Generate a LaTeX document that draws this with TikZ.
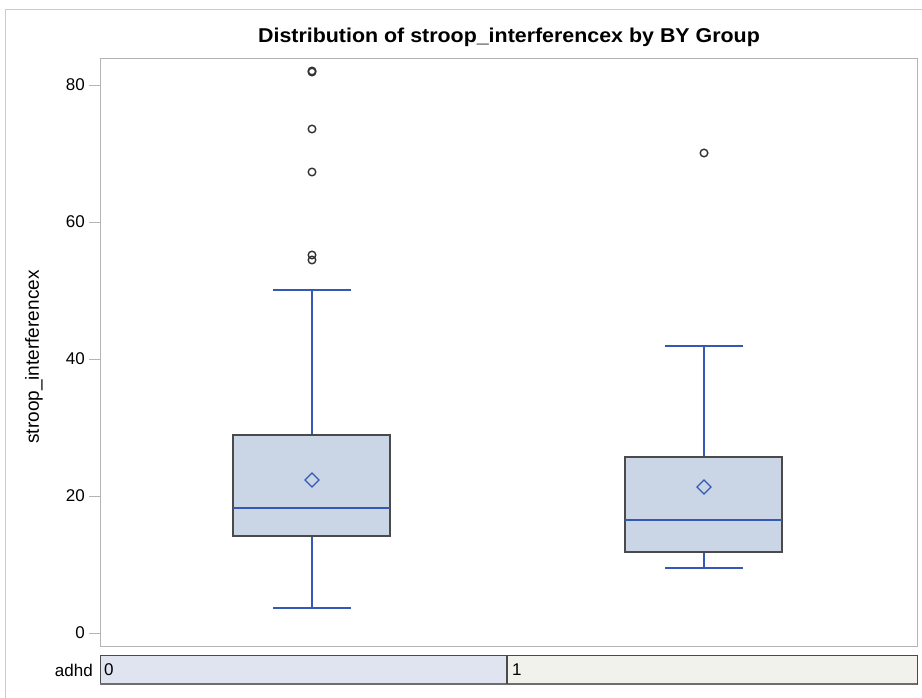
\documentclass[tikz,border=0pt]{standalone}
\usepackage{fontspec}
\setmainfont{Liberation Sans}
\definecolor{boxfill}{HTML}{CAD5E5}
\definecolor{boxline}{HTML}{4A4A4A}
\definecolor{wblue}{HTML}{3558B5}
\definecolor{framegray}{HTML}{B4B4B4}
\definecolor{stripA}{HTML}{DFE4F0}
\definecolor{stripB}{HTML}{F1F2EC}
\definecolor{outl}{HTML}{333333}
\tikzset{
  whisk/.style={draw=wblue, line width=1.2pt},
  qbox/.style={draw=boxline, fill=boxfill, line width=1.6pt},
  outp/.style={draw=outl, line width=1.4pt},
  tick/.style={draw=framegray, line width=0.8pt},
  lab/.style={font=\fontsize{17}{20}\selectfont, text=black, inner sep=0pt},
  ticklab/.style={lab, anchor=east},
}
\begin{document}
\begin{tikzpicture}[x=1pt,y=-1pt]
\useasboundingbox (0,0) rectangle (922,698);
\fill[white] (0,0) rectangle (922,698);
% outer panel frame
\draw[draw=framegray!70, line width=0.8pt] (5,698) -- (5,9) -- (922,9);
% title
\node[font=\bfseries\fontsize{20}{24}\selectfont, xscale=1.07, inner sep=0pt] (title) at (509,37) {Distribution of stroop\_interferencex by BY Group};
% plot frame
\draw[draw=framegray, line width=1pt] (100,59) rectangle (917,646);
% y ticks and labels
\foreach \v/\yy in {0/633,20/496,40/359,60/222,80/85}{
  \draw[tick] (89,\yy) -- (100,\yy);
  \node[ticklab] (t\v) at (85,\yy) {\v};
}
\node[rotate=90, font=\fontsize{19}{22}\selectfont, inner sep=0pt] (ylab) at (34,357) {stroop\_interferencex};
% group 0
\draw[whisk] (312,290) -- (312,435);
\draw[whisk] (312,536) -- (312,608);
\draw[whisk] (273,290) -- (351,290);
\draw[whisk] (273,608) -- (351,608);
\draw[qbox] (233,435) rectangle (390,536);
\draw[whisk] (233,508) -- (390,508);
\draw[whisk] (312,473) -- (319,480) -- (312,487) -- (305,480) -- cycle;
\foreach \yy in {71,72,129,172,255,260}{ \draw[outp] (312,\yy) circle (3.8); }
% group 1
\draw[whisk] (704,346) -- (704,457);
\draw[whisk] (704,552) -- (704,568);
\draw[whisk] (665,346) -- (743,346);
\draw[whisk] (665,568) -- (743,568);
\draw[qbox] (625,457) rectangle (782,552);
\draw[whisk] (625,520) -- (782,520);
\draw[whisk] (704,480) -- (711,487) -- (704,494) -- (697,487) -- cycle;
\draw[outp] (704,153) circle (3.8);
% strip
\node[lab, anchor=east] (adhd) at (93,670) {adhd};
\draw[draw=boxline, fill=stripA, line width=1pt] (100,655) rectangle (507,684);
\draw[draw=boxline, fill=stripB, line width=1pt] (507,655) rectangle (917,684);
\draw[draw=boxline!80, line width=2pt] (100,684) -- (917,684);
\draw[draw=boxline, line width=1.6pt] (507,655) -- (507,684);
\node[lab, anchor=west] (g0) at (104,670) {0};
\node[lab, anchor=west] (g1) at (512,670) {1};
\end{tikzpicture}
\end{document}
